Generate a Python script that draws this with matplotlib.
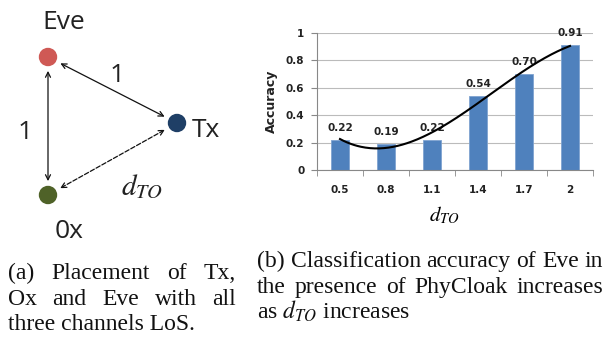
import numpy as np
import matplotlib
matplotlib.use('Agg')
import matplotlib.pyplot as plt
from matplotlib.patches import Circle

# chart data
categories = ['0.5', '0.8', '1.1', '1.4', '1.7', '2']
accuracy = [0.22, 0.19, 0.22, 0.54, 0.70, 0.91]
yticks = [0, 0.2, 0.4, 0.6, 0.8, 1]

# diagram nodes
node_names = ['Eve', 'Tx', '0x']
node_colors = ['#CF5955', '#1F3F66', '#4F6228']

caption_a = ['(a) Placement of Tx,', 'Ox and Eve with all', 'three channels LoS.']
caption_b = ['(b) Classification accuracy of Eve in',
             'the presence of PhyCloak increases',
             r'as $d_{TO}$ increases']

W, H = 607, 342
fig = plt.figure(figsize=(W / 100, H / 100), dpi=100)

# ---------- overlay in pixel coords ----------
ov = fig.add_axes([0, 0, 1, 1])
ov.set_xlim(0, W)
ov.set_ylim(H, 0)
ov.axis('off')

pos = {'Eve': (48, 57), 'Tx': (177, 123), '0x': (48, 195)}
for name, col in zip(node_names, node_colors):
    ov.add_patch(Circle(pos[name], 8.5, color=col, zorder=3))

def link(a, b, ls):
    ov.annotate('', xy=pos[b], xytext=pos[a],
                arrowprops=dict(arrowstyle='<->', color='#111111', lw=0.9,
                                linestyle=ls, shrinkA=10, shrinkB=10,
                                mutation_scale=9))

link('Eve', 'Tx', '-')
link('Eve', '0x', '-')
link('0x', 'Tx', '--')

dfont = 'Open Sans'
ov.text(64, 29, 'Eve', fontsize=19, family=dfont, ha='center', va='baseline',
        color='#222222')
ov.text(192, 137, 'Tx', fontsize=19, family=dfont, ha='left', va='baseline',
        color='#222222')
ov.text(55, 238, '0x', fontsize=19, family=dfont, ha='left', va='baseline',
        color='#222222')
ov.text(117, 82, '1', fontsize=19, family=dfont, ha='center', va='baseline',
        color='#222222')
ov.text(25, 139, '1', fontsize=19, family=dfont, ha='center', va='baseline',
        color='#222222')
ov.text(142, 187, r'$d_{TO}$', fontsize=21, ha='center', va='center',
        math_fontfamily='stix', color='#222222')

# ---------- bar chart ----------
cfont = 'DejaVu Sans'
ax = fig.add_axes([317 / W, 1 - 170 / H, 276 / W, 137 / H])
x = np.arange(len(categories))
ax.bar(x, accuracy, width=0.41, color='#4F81BD', edgecolor='#7FA3D0',
       linewidth=0.6, zorder=2)
for xi, v in zip(x, accuracy):
    ax.annotate(f'{v:.2f}', (xi, v), xytext=(0, 5), textcoords='offset points',
                ha='center', va='bottom', fontsize=7.5, fontweight='bold',
                family=cfont, color='#222222')

coef = np.polyfit(x, accuracy, 3)
xs = np.linspace(x[0], x[-1], 200)
ax.plot(xs, np.polyval(coef, xs), color='black', lw=1.5, zorder=3)

ax.set_xlim(-0.5, len(categories) - 0.5)
ax.set_ylim(0, 1)
ax.set_yticks(yticks)
ax.set_yticklabels([f'{t:g}' for t in yticks], fontsize=7.5,
                   fontweight='bold', family=cfont, color='#222222')
ax.set_xticks(x)
ax.set_xticklabels(categories, fontsize=7.5, fontweight='bold', family=cfont,
                   color='#222222')
ax.set_xticks(np.arange(-0.5, len(categories)), minor=True)
ax.tick_params(axis='x', which='major', length=0, pad=11)
ax.tick_params(axis='x', which='minor', length=4, color='#888888', direction='out')
ax.tick_params(axis='y', length=4, color='#888888', direction='out', pad=5)
ax.grid(axis='y', color='#BBBBBB', lw=0.8, zorder=0)
for s in ['top', 'right']:
    ax.spines[s].set_visible(False)
for s in ['left', 'bottom']:
    ax.spines[s].set_color('#888888')
    ax.spines[s].set_linewidth(0.8)
ax.set_ylabel('Accuracy', fontsize=9, fontweight='bold', family=cfont,
              labelpad=6, color='#222222')
ax.set_xlabel(r'$d_{TO}$', fontsize=15, math_fontfamily='stix', labelpad=6)
ax.xaxis.set_label_coords(0.46, -0.25)

# ---------- captions (justified) ----------
fig.canvas.draw()
renderer = fig.canvas.get_renderer()
capfont = dict(family='Liberation Serif', fontsize=17, math_fontfamily='stix',
               color='#111111')

def justified(lines, x0, x1, ys):
    for i, (line, y) in enumerate(zip(lines, ys)):
        words = line.split(' ')
        if i == len(lines) - 1 or len(words) == 1:
            ov.text(x0, y, line, ha='left', va='baseline', **capfont)
            continue
        arts = [ov.text(0, y, w, ha='left', va='baseline', **capfont) for w in words]
        widths = [a.get_window_extent(renderer).width for a in arts]
        gap = (x1 - x0 - sum(widths)) / (len(words) - 1)
        cx = x0
        for a, w in zip(arts, widths):
            a.set_x(cx)
            cx += w + gap

justified(caption_a, 8, 236, [279, 305, 330])
justified(caption_b, 257, 603, [267, 293, 319])

fig.savefig('out.png', dpi=100, facecolor='white')
